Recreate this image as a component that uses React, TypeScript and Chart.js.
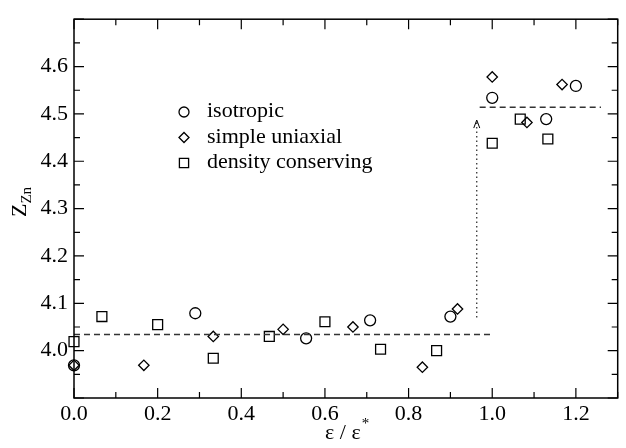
import React, { useEffect, useRef } from 'react';
import { Chart, registerables } from 'chart.js';

Chart.register(...registerables);

// ---- data ----
const isoX = [0, 0.29, 0.555, 0.708, 0.9, 1.0, 1.129, 1.2];
const isoY = [3.969, 4.079, 4.026, 4.064, 4.072, 4.534, 4.489, 4.559];

const uniX = [0, 0.167, 0.333, 0.5, 0.667, 0.833, 0.917, 1.0, 1.083, 1.167];
const uniY = [3.969, 3.969, 4.03, 4.045, 4.05, 3.965, 4.088, 4.578, 4.482, 4.562];

const denX = [0, 0.0667, 0.2, 0.333, 0.467, 0.6, 0.733, 0.867, 1.0, 1.067, 1.133];
const denY = [4.019, 4.072, 4.055, 3.984, 4.03, 4.061, 4.003, 4.0, 4.438, 4.489, 4.447];

const lowFitX = [0, 1.0];
const lowFitY = [4.034, 4.034];
const highFitX = [0.97, 1.26];
const highFitY = [4.514, 4.514];
const arrowX = [0.963, 0.963];
const arrowY = [4.07, 4.487];

const seriesLabels = ['isotropic', 'simple uniaxial', 'density conserving'];
const xTitle = 'ε / ε';
const xTitleSup = '*';
const yTitle = 'Z';
const yTitleSub = 'Zn';

const FONT = '"Liberation Serif", "Times New Roman", serif';

const pts = (xs: number[], ys: number[]) => xs.map((x, i) => ({ x, y: ys[i] }));

function drawMarker(ctx: CanvasRenderingContext2D, style: string, x: number, y: number, r: number) {
  ctx.beginPath();
  if (style === 'circle') {
    ctx.arc(x, y, r, 0, Math.PI * 2);
  } else if (style === 'rectRot') {
    ctx.moveTo(x - r, y);
    ctx.lineTo(x, y - r);
    ctx.lineTo(x + r, y);
    ctx.lineTo(x, y + r);
    ctx.closePath();
  } else {
    const s = Math.SQRT1_2 * r;
    ctx.rect(x - s, y - s, 2 * s, 2 * s);
  }
  ctx.stroke();
}

const framePlugin = {
  id: 'frame',
  afterDraw(chart: any) {
    const { ctx, chartArea: ca, scales } = chart;
    const xs = scales.x;
    const ys = scales.y;
    ctx.save();
    ctx.strokeStyle = '#000';
    // ticks
    ctx.lineWidth = 1.2;
    ctx.beginPath();
    xs.ticks.forEach((t: any) => {
      const px = xs.getPixelForValue(t.value);
      const major = Math.round(t.value * 10) % 2 === 0;
      const len = major ? 10 : 6;
      ctx.moveTo(px, ca.bottom);
      ctx.lineTo(px, ca.bottom - len);
      ctx.moveTo(px, ca.top);
      ctx.lineTo(px, ca.top + len);
    });
    ys.ticks.forEach((t: any) => {
      const py = ys.getPixelForValue(t.value);
      const major = Math.round(t.value * 100) % 10 === 0;
      const len = major ? 10 : 6;
      ctx.moveTo(ca.left, py);
      ctx.lineTo(ca.left + len, py);
      ctx.moveTo(ca.right, py);
      ctx.lineTo(ca.right - len, py);
    });
    ctx.stroke();
    // frame
    ctx.lineWidth = 1.5;
    ctx.strokeRect(ca.left, ca.top, ca.right - ca.left, ca.bottom - ca.top);

    // arrow head
    const ax = xs.getPixelForValue(arrowX[1]);
    const ay = ys.getPixelForValue(arrowY[1]);
    ctx.lineWidth = 1;
    ctx.beginPath();
    ctx.moveTo(ax - 3, ay + 8);
    ctx.lineTo(ax, ay);
    ctx.lineTo(ax + 3, ay + 8);
    ctx.stroke();

    // legend
    const styles = ['circle', 'rectRot', 'rect'];
    const radii = [5, 5, 6.5];
    ctx.fillStyle = '#000';
    ctx.font = `22px ${FONT}`;
    ctx.textAlign = 'left';
    ctx.textBaseline = 'alphabetic';
    seriesLabels.forEach((lab, i) => {
      const cy = 112 + i * 25.5;
      ctx.lineWidth = 1.3;
      drawMarker(ctx, styles[i], 184, cy, radii[i]);
      ctx.fillText(lab, 207, cy + 5);
    });

    // x title
    ctx.font = `22px ${FONT}`;
    const w = ctx.measureText(xTitle).width;
    const cx = (ca.left + ca.right) / 2;
    ctx.fillText(xTitle, cx - w / 2 - 3, 439);
    ctx.font = `15px ${FONT}`;
    ctx.fillText(xTitleSup, cx + w / 2 - 2, 428);

    // y title
    ctx.save();
    ctx.translate(26, 217);
    ctx.rotate(-Math.PI / 2);
    ctx.font = `22px ${FONT}`;
    ctx.fillText(yTitle, 0, 0);
    const zw = ctx.measureText(yTitle).width;
    ctx.font = `15px ${FONT}`;
    ctx.fillText(yTitleSub, zw, 5);
    ctx.restore();

    ctx.restore();
  },
};

export default function App() {
  const ref = useRef<HTMLCanvasElement | null>(null);
  useEffect(() => {
    if (!ref.current) return;
    const markerCommon = {
      showLine: false,
      borderColor: '#000',
      backgroundColor: 'rgba(0,0,0,0)',
      pointBorderWidth: 1.3,
      pointBorderColor: '#000',
      pointBackgroundColor: 'rgba(0,0,0,0)',
      clip: false as any,
    };
    const lineCommon = {
      showLine: true,
      pointRadius: 0,
      borderColor: '#333',
      borderWidth: 1.5,
      fill: false,
      clip: false as any,
    };
    const chart = new Chart(ref.current, {
      type: 'scatter',
      data: {
        datasets: [
          { ...lineCommon, label: 'fit low', data: pts(lowFitX, lowFitY), borderDash: [6, 4] },
          { ...lineCommon, label: 'fit high', data: pts(highFitX, highFitY), borderDash: [6, 4] },
          { ...lineCommon, label: 'arrow', data: pts(arrowX, arrowY), borderDash: [1.5, 3], borderWidth: 1.2, borderColor: '#222' },
          { ...markerCommon, label: seriesLabels[0], data: pts(isoX, isoY), pointStyle: 'circle', pointRadius: 5.5 },
          { ...markerCommon, label: seriesLabels[1], data: pts(uniX, uniY), pointStyle: 'rectRot', pointRadius: 5.2 },
          { ...markerCommon, label: seriesLabels[2], data: pts(denX, denY), pointStyle: 'rect', pointRadius: 7 },
        ] as any,
      },
      options: {
        animation: false,
        responsive: false,
        devicePixelRatio: 1,
        layout: { padding: { top: 13, right: 1, left: 0, bottom: 0 } },
        plugins: { legend: { display: false }, tooltip: { enabled: false } },
        scales: {
          x: {
            type: 'linear',
            min: 0,
            max: 1.3,
            border: { display: false },
            grid: { display: false, drawTicks: false },
            afterFit: (s: any) => { s.height = 50; },
            ticks: {
              stepSize: 0.1,
              autoSkip: false,
              maxRotation: 0,
              padding: 3,
              color: '#000',
              font: { family: FONT, size: 22 },
              callback: (v: any) => {
                const n = Math.round(Number(v) * 10);
                return n % 2 === 0 && n <= 12 ? (n / 10).toFixed(1) : '';
              },
            },
          },
          y: {
            type: 'linear',
            min: 3.9,
            max: 4.7,
            border: { display: false },
            grid: { display: false, drawTicks: false },
            afterFit: (s: any) => { s.width = 74; },
            ticks: {
              stepSize: 0.05,
              autoSkip: false,
              padding: 6,
              color: '#000',
              font: { family: FONT, size: 22 },
              callback: (v: any) => {
                const n = Math.round(Number(v) * 100);
                return n % 10 === 0 && n >= 400 && n <= 460 ? (n / 100).toFixed(1) : '';
              },
            },
          },
        },
      },
      plugins: [framePlugin],
    });
    return () => chart.destroy();
  }, []);
  return (
    <div style={{ position: 'absolute', left: 0, top: 0, width: 626, height: 448, background: '#fff' }}>
      <canvas ref={ref} width={626} height={448} style={{ width: 626, height: 448, display: 'block' }} />
    </div>
  );
}
